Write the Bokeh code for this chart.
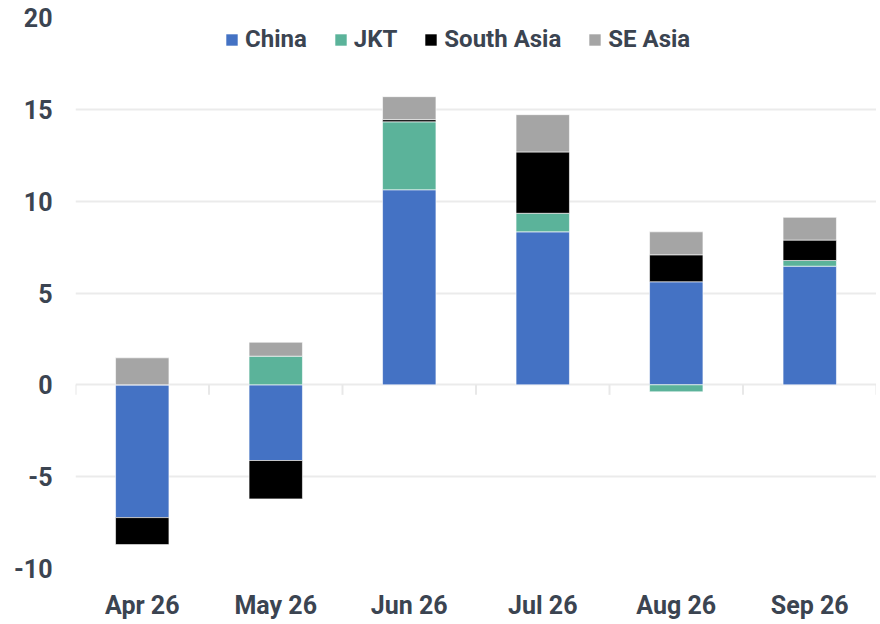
from bokeh.plotting import figure
from bokeh.models import FactorRange, Range1d, FixedTicker, Legend, LegendItem
from bokeh.embed import file_html
from bokeh.resources import INLINE

months = ["Apr 26", "May 26", "Jun 26", "Jul 26", "Aug 26", "Sep 26"]
china = [-7.23, -4.12, 10.62, 8.33, 5.61, 6.46]
jkt = [0.0, 1.56, 3.70, 1.01, -0.38, 0.31]
south_asia = [-1.47, -2.09, 0.12, 3.34, 1.47, 1.11]
se_asia = [1.47, 0.76, 1.25, 2.03, 1.25, 1.24]
y_ticks = [-10, -5, 0, 5, 10, 15, 20]
y_tick_labels = ["-10", "-5", "0", "5", "10", "15", "20"]

series = [
    ("China", china, "#4472C4"),
    ("JKT", jkt, "#5BB39A"),
    ("South Asia", south_asia, "#000000"),
    ("SE Asia", se_asia, "#A5A5A5"),
]

TEXT = "#3B4451"
FONT = "Roboto"

p = figure(
    x_range=FactorRange(*months),
    y_range=Range1d(-10, 20),
    frame_width=801, frame_height=551,
    min_border_left=75, min_border_top=17, min_border_right=0, min_border_bottom=50,
    output_backend="svg", toolbar_location=None,
)
p.outline_line_color = None
p.background_fill_color = "white"

pos = [0.0] * len(months)
neg = [0.0] * len(months)
items = []
for name, vals, color in series:
    bottoms, tops = [], []
    for i, v in enumerate(vals):
        if v >= 0:
            bottoms.append(pos[i]); tops.append(pos[i] + v); pos[i] += v
        else:
            tops.append(neg[i]); bottoms.append(neg[i] + v); neg[i] += v
    r = p.vbar(x=months, bottom=bottoms, top=tops, width=0.40,
               fill_color=color, line_color="white", line_width=0.6)
    items.append(LegendItem(label=name, renderers=[r]))

# category boundary ticks on the zero line
bounds = list(range(len(months) + 1))
tick_len = 10 / (551 / 30)
p.segment(x0=bounds, y0=[0] * len(bounds), x1=bounds, y1=[-tick_len] * len(bounds),
          line_color="#E8E8E8", line_width=2)

legend = Legend(items=items, orientation="horizontal", location=(149, 515))
legend.border_line_color = None
legend.background_fill_alpha = 0
legend.label_text_font = FONT
legend.label_text_font_style = "bold"
legend.label_text_font_size = "24px"
legend.label_text_color = TEXT
legend.glyph_width = 15
legend.glyph_height = 15
legend.label_standoff = 6
legend.spacing = 26
legend.padding = 8
legend.margin = 0
p.add_layout(legend, "center")

p.xgrid.grid_line_color = None
p.ygrid.grid_line_color = "#EBEBEB"
p.ygrid.grid_line_width = 2
p.ygrid.ticker = FixedTicker(ticks=y_ticks)

p.yaxis.ticker = FixedTicker(ticks=y_ticks)
p.yaxis.major_label_overrides = {t: l for t, l in zip(y_ticks, y_tick_labels)}
for ax in (p.xaxis, p.yaxis):
    ax.axis_line_color = None
    ax.major_tick_line_color = None
    ax.minor_tick_line_color = None
    ax.major_tick_out = 0
    ax.major_tick_in = 0
    ax.major_label_text_font = FONT
    ax.major_label_text_font_style = "bold"
    ax.major_label_text_font_size = "25px"
    ax.major_label_text_color = TEXT
p.yaxis.major_label_standoff = 23
p.xaxis.major_label_standoff = 22

open("out.html", "w").write(file_html(p, INLINE))
